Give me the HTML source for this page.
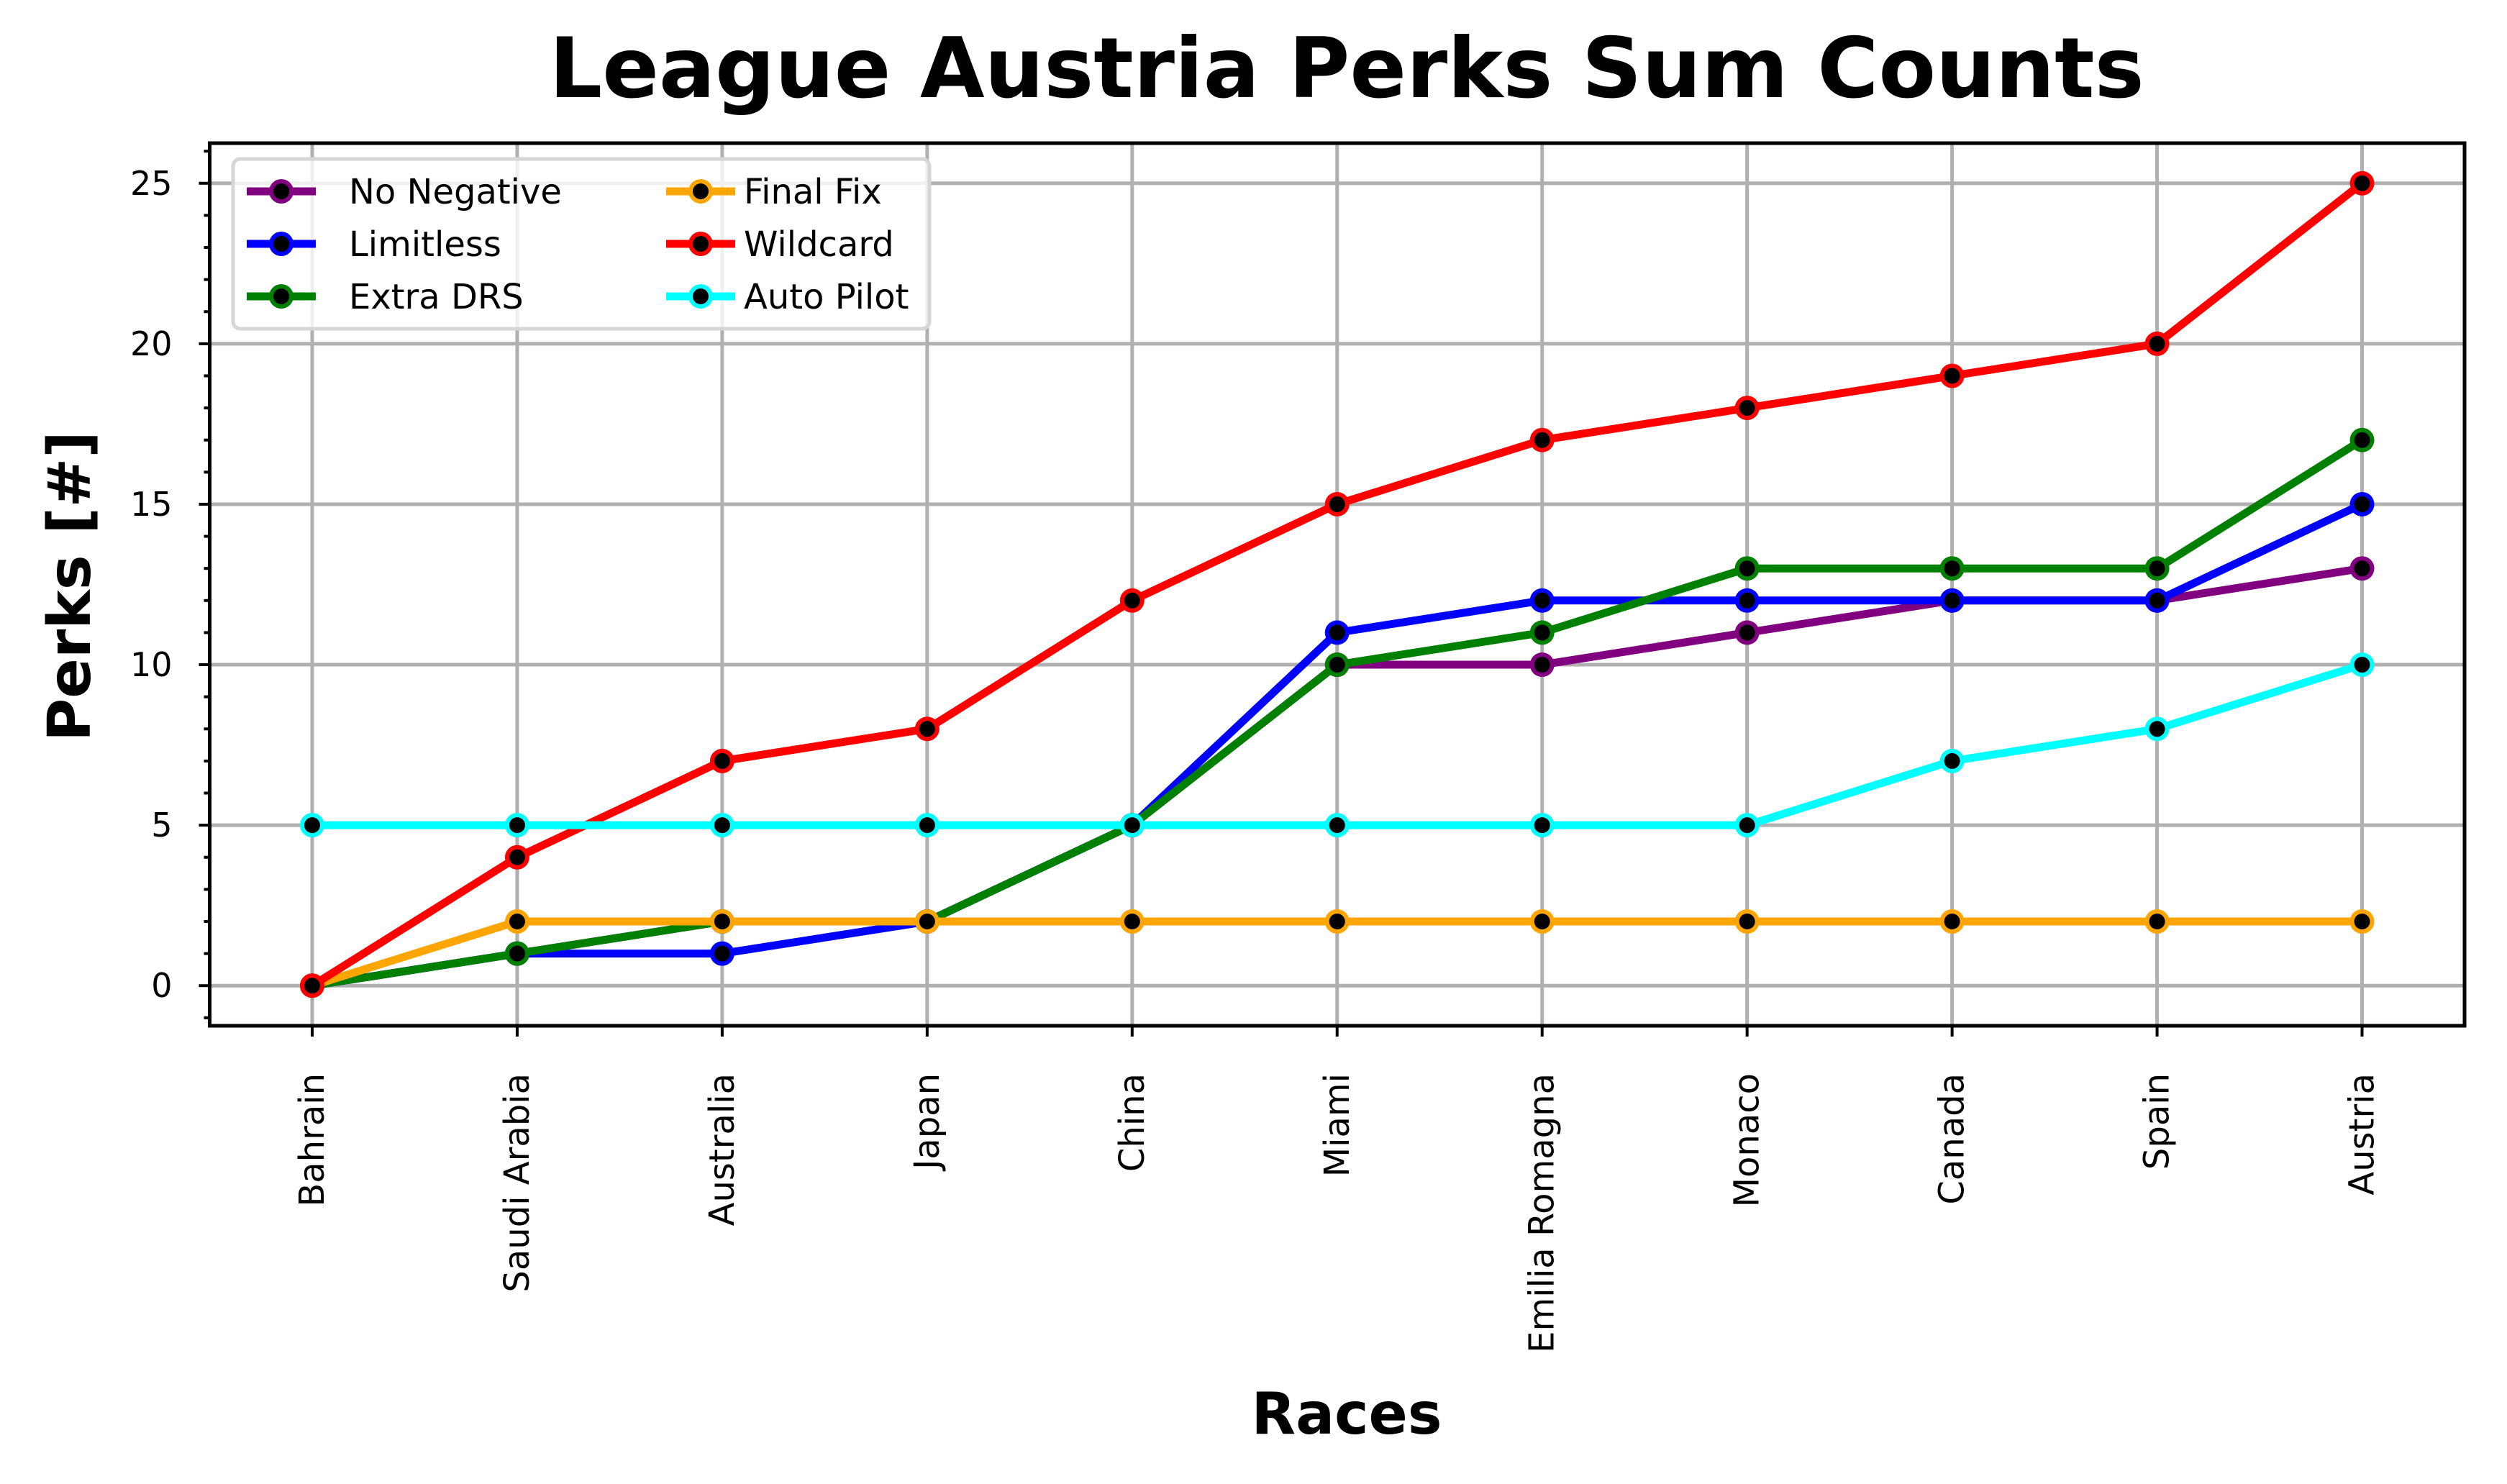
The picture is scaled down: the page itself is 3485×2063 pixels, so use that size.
<!DOCTYPE html>
<html><head><meta charset="utf-8"><style>
html,body{margin:0;padding:0;background:#fff;}
svg{display:block;font-family:"DejaVu Sans","Liberation Sans",sans-serif;}
</style></head><body>
<svg id="chart" width="3485" height="2063" viewBox="0 0 3485 2063">
<rect width="3485" height="2063" fill="#fff"/>
<text x="1872" y="135" text-anchor="middle" font-size="116" font-weight="bold">League Austria Perks Sum Counts</text>
<g id="grid"></g>
<g id="series"></g>
<g id="axes"></g>
<g id="legend"></g>
<text x="1872" y="1993" text-anchor="middle" font-size="80" font-weight="bold">Races</text>
<text transform="translate(125,815) rotate(-90)" text-anchor="middle" font-size="82" font-weight="bold">Perks [#]</text>
</svg>
<script>
const races = ["Bahrain","Saudi Arabia","Australia","Japan","China","Miami","Emilia Romagna","Monaco","Canada","Spain","Austria"];
const seriesNames = ["No Negative","Limitless","Extra DRS","Final Fix","Wildcard","Auto Pilot"];
const seriesColors = ["purple","blue","green","orange","red","cyan"];
const noNegative = [0,1,2,2,5,10,10,11,12,12,13];
const limitless = [0,1,1,2,5,11,12,12,12,12,15];
const extraDrs = [0,1,2,2,5,10,11,13,13,13,17];
const finalFix = [0,2,2,2,2,2,2,2,2,2,2];
const wildcard = [0,4,7,8,12,15,17,18,19,20,25];
const autoPilot = [5,5,5,5,5,5,5,5,7,8,10];
const yTicks = [0,5,10,15,20,25];

const NS="http://www.w3.org/2000/svg";
const L=291.5,R=3426,T=199,B=1426;
const allVals=[noNegative,limitless,extraDrs,finalFix,wildcard,autoPilot];
let ymin=Math.min(...allVals.flat()),ymax=Math.max(...allVals.flat());
const pad=(ymax-ymin)*0.05; const y0=ymin-pad,y1=ymax+pad;
const xs=i=>L+(i+0.5)*(R-L)/races.length;
const ys=v=>B-(v-y0)/(y1-y0)*(B-T);
function mk(tag,attrs,parent){const e=document.createElementNS(NS,tag);for(const k in attrs)e.setAttribute(k,attrs[k]);parent.appendChild(e);return e;}
const grid=document.getElementById('grid'),axes=document.getElementById('axes'),ser=document.getElementById('series'),leg=document.getElementById('legend');
races.forEach((r,i)=>{
  const g=mk('line',{x1:xs(i),x2:xs(i),y1:T,y2:B,stroke:'#b0b0b0','stroke-width':5},grid);
  
  
  const t=mk('line',{x1:xs(i),x2:xs(i),y1:B,y2:B+15,stroke:'#000','stroke-width':4},axes);
  
  
  const tx=mk('text',{transform:`translate(${xs(i)+16},${B+66}) rotate(-90)`,'text-anchor':'end','font-size':48},axes);
  tx.textContent=r;
  
  
});
for(let v=Math.ceil(y0);v<=y1;v++){
  const major=yTicks.includes(v);
  if(major){
    const g=mk('line',{x1:L,x2:R,y1:ys(v),y2:ys(v),stroke:'#b0b0b0','stroke-width':5},grid);
    
    
    const tx=mk('text',{x:L-52,y:ys(v)+16,'text-anchor':'end','font-size':46},axes);
    tx.textContent=v;
    
    
  }
  const t=mk('line',{x1:L-(major?15:8),x2:L,y1:ys(v),y2:ys(v),stroke:'#000','stroke-width':4},axes);
  
  
}
const sp=mk('rect',{x:L,y:T,width:R-L,height:B-T,fill:'none',stroke:'#000','stroke-width':5},axes);


allVals.forEach((vals,s)=>{
  const g=mk('g',{},ser);
  
  
  const p=mk('polyline',{points:vals.map((v,i)=>xs(i)+','+ys(v)).join(' '),fill:'none',stroke:seriesColors[s],'stroke-width':11,'stroke-linejoin':'round'},g);
  
  
  vals.forEach((v,i)=>{
    const c=mk('circle',{cx:xs(i),cy:ys(v),r:17,fill:seriesColors[s]},g);
    
    
    const d=mk('circle',{cx:xs(i),cy:ys(v),r:11,fill:'#000'},g);
    
    
  });
});
const lb=mk('rect',{x:324,y:221,width:968,height:236,rx:10,fill:'rgba(255,255,255,0.8)',stroke:'#d6d6d6','stroke-width':5},leg);


seriesNames.forEach((n,s)=>{
  const col=Math.floor(s/3),row=s%3;
  const cx=col?974:391, cy=266+row*73;
  const g=mk('g',{},leg);
  
  
  mk('line',{x1:cx-48,x2:cx+48,y1:cy,y2:cy,stroke:seriesColors[s],'stroke-width':11},g);
  mk('circle',{cx:cx,cy:cy,r:17,fill:seriesColors[s]},g);
  mk('circle',{cx:cx,cy:cy,r:11,fill:'#000'},g);
  const t=mk('text',{x:col?1034:485,y:cy+17,'font-size':48},g);
  t.textContent=n;
});
</script>
</body></html>
